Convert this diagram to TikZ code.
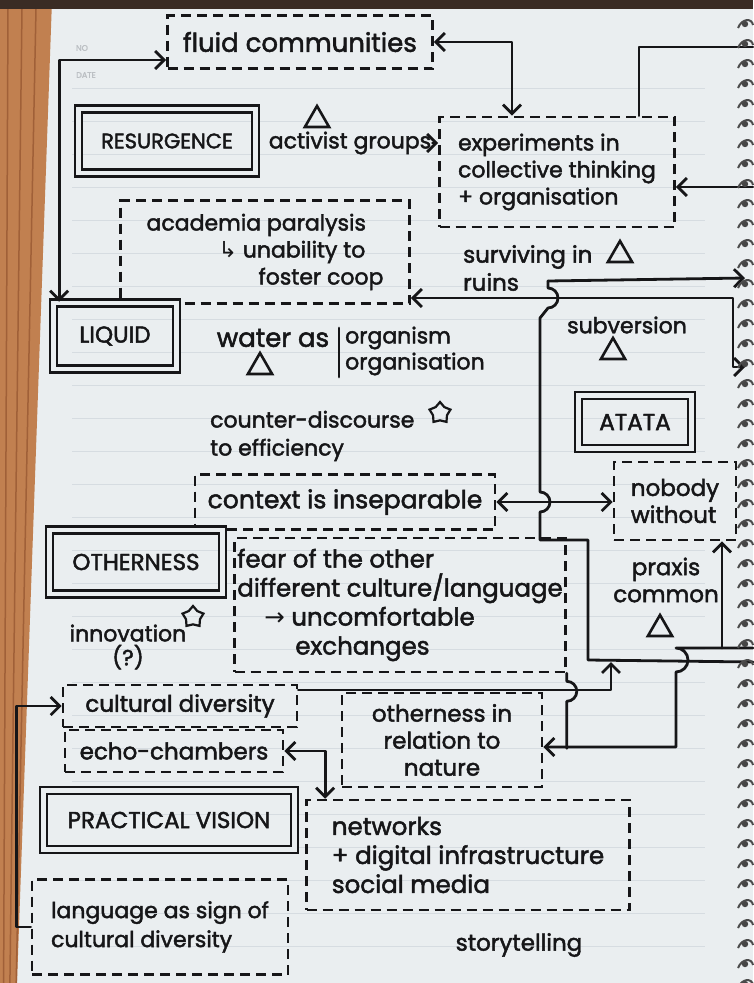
\documentclass[tikz,border=0pt]{standalone}
\usepackage{fontspec}
\setmainfont{Poppins}[FakeBold=2]
\newfontfamily\simbolos{DejaVu Sans}
\usetikzlibrary{shapes.geometric,arrows.meta}
\definecolor{papel}{RGB}{234,238,240}
\definecolor{tinta}{RGB}{22,22,24}
\definecolor{madera}{RGB}{193,128,80}
\definecolor{veta}{RGB}{160,96,56}
\definecolor{borde}{RGB}{58,44,36}
\definecolor{renglon}{RGB}{214,220,225}

\begin{document}
\begin{tikzpicture}[x=1pt,y=-1pt,>={Straight Barb[length=9pt,width=18pt]},
  font=\fontsize{23}{27}\selectfont,every node/.style={text=tinta}]
% estilos de linea y relleno
\tikzstyle{cajadoble}=[draw=tinta,double=papel,double distance=4.5pt,line width=2.6pt,inner sep=0pt,font=\fontsize{23}{26}\selectfont]
\tikzstyle{cajapunteada}=[draw=tinta,line width=2.6pt,dash pattern=on 10pt off 6pt,align=left,inner sep=0pt]
\tikzstyle{conector}=[draw=tinta,line width=2.8pt,line cap=round,line join=round]
\tikzstyle{texto}=[align=left,inner sep=1pt]
\tikzstyle{delta}=[draw=tinta,regular polygon,regular polygon sides=3,minimum size=28pt,inner sep=0pt,line width=2.6pt]
\tikzstyle{estrellita}=[draw=tinta,star,star points=5,minimum size=22pt,inner sep=0pt,line width=2.2pt]
\tikzstyle{anillo}=[line width=2pt,draw=gray!60!black]
% definicion triangulo
% #1: nombre del nodo
% #2: ubicacion
\newcommand{\triangulo}[2]{
\node[delta] (#1) at #2 {};
 }
% definicion estrella
% #1: nombre del nodo
% #2: ubicacion
\newcommand{\estrella}[2]{
\node[estrellita] (#1) at #2 {};
 }
\useasboundingbox (0,0) rectangle (753,983);
% --------------------------------------
% fondo: hoja, mesa y renglones
\fill[papel] (0,0) rectangle (753,983);
\fill[madera] (0,0) -- (52,0) -- (17,983) -- (0,983) -- cycle;
\foreach \x in {8,22,36}
  \draw[veta,line width=1.5pt] (\x,9) -- (\x*0.45,983);
\fill[borde] (0,0) rectangle (753,9);
\foreach \y in {88,121,...,960}
  \draw[renglon,line width=1pt] (72,\y) -- (705,\y);
\node[font=\fontsize{8}{9}\selectfont,text=renglon!70!gray] (no) at (82,48) {NO};
\node[font=\fontsize{8}{9}\selectfont,text=renglon!70!gray] (fecha) at (86,75) {DATE};
% --------------------------------------
% dibujar cajas punteadas
\node[cajapunteada,minimum width=265pt,minimum height=53pt,font=\fontsize{26}{30}\selectfont] (fluid) at (300,42) {fluid communities};
\node[cajapunteada,minimum width=235pt,minimum height=110pt,font=\fontsize{22}{27}\selectfont] (exp) at (557,172) {experiments in\\collective thinking\\+ organisation};
\node[cajapunteada,minimum width=289pt,minimum height=103pt,font=\fontsize{22}{27}\selectfont] (acad) at (265,252) {academia paralysis\\\hspace*{72pt}{\simbolos ↳} unability to\\\hspace*{112pt}foster coop};
\node[cajapunteada,minimum width=300pt,minimum height=55pt,font=\fontsize{25}{29}\selectfont] (ctx) at (345,502) {context is inseparable};
\node[cajapunteada,minimum width=122pt,minimum height=78pt] (nobody) at (675,501) {nobody\\without};
\node[cajapunteada,minimum width=331pt,minimum height=134pt,font=\fontsize{24.5}{29}\selectfont] (fear) at (400,605) {fear of the other\\different culture/language\\\hspace*{27pt}{\simbolos →} uncomfortable\\\hspace*{58pt}exchanges};
\node[cajapunteada,minimum width=234pt,minimum height=42pt] (cult) at (180,706) {cultural diversity};
\node[cajapunteada,minimum width=218pt,minimum height=42pt] (echo) at (174,751) {echo-chambers};
\node[cajapunteada,minimum width=200pt,minimum height=94pt,align=center] (oth) at (442,740) {otherness in\\relation to\\nature};
\node[cajapunteada,minimum width=323pt,minimum height=110pt,font=\fontsize{24.5}{29}\selectfont] (net) at (468,855) {networks\\+ digital infrastructure\\social media};
\node[cajapunteada,minimum width=256pt,minimum height=95pt,font=\fontsize{22}{29}\selectfont] (lang) at (160,927) {language as sign of\\cultural diversity};
% dibujar cajas dobles
\node[cajadoble,minimum width=177pt,minimum height=64pt,font=\fontsize{21}{24}\selectfont] (resurgence) at (167,141) {RESURGENCE};
\node[cajadoble,minimum width=123pt,minimum height=66pt] (liquid) at (115,336) {LIQUID};
\node[cajadoble,minimum width=113pt,minimum height=53pt] (atata) at (635,422) {ATATA};
\node[cajadoble,minimum width=173pt,minimum height=64pt] (otherness) at (136,562) {OTHERNESS};
\node[cajadoble,minimum width=251pt,minimum height=59pt] (practical) at (169,820) {PRACTICAL VISION};
% dibujar textos sueltos
\node[texto,font=\fontsize{22}{27}\selectfont] (activist) at (350,143) {activist groups};
\node[texto,anchor=west] (surv) at (462,257) {surviving in};
\node[texto,anchor=west] (ruins) at (462,282) {ruins};
\node[texto,font=\fontsize{26}{30}\selectfont] (water) at (273,338) {water as};
\node[texto,anchor=west,font=\fontsize{22}{26}\selectfont] (organism) at (344,351) {organism\\organisation};
\node[texto,anchor=west,font=\fontsize{22}{28}\selectfont] (counter) at (209,436) {counter-discourse\\to efficiency};
\node[texto,font=\fontsize{22}{27}\selectfont] (subversion) at (627,325) {subversion};
\node[texto,align=center] (praxis) at (666,580) {praxis\\common};
\node[texto,align=center,font=\fontsize{22}{24}\selectfont] (innovation) at (128,647) {innovation\\(?)};
\node[texto] (story) at (519,945) {storytelling};
\draw[conector] (339,328) -- (339,377);
% dibujar triangulos y estrellas
\triangulo{t1}{(317,120)}
\triangulo{t2}{(620,255)}
\triangulo{t3}{(260,367)}
\triangulo{t4}{(613,352)}
\triangulo{t5}{(660,629)}
\estrella{e1}{(440,413)}
\estrella{e2}{(193,617)}
% --------------------------------------
% dibujar conectores
\coordinate (derA) at (753,47);
\coordinate (derB) at (753,187);
\coordinate (derC) at (745,367);
\coordinate (derD) at (745,278);
\coordinate (derE) at (753,662);
\coordinate (derF) at (753,648);
\coordinate (ruinsR) at (548,281);
\coordinate (union) at (611,662);
\coordinate (praxisJ) at (722,648);
\draw[conector,<->] ([xshift=7pt]liquid.north west) |- ([yshift=-18pt]fluid.west);
\draw[conector,<->] (fluid.east) -| ([xshift=-45pt]exp.north);
\draw[conector] ([xshift=82pt]exp.north) |- (derA);
\draw[conector,->] (derB) -- (derB -| exp.east);
\draw[conector,->] (activist.east) -- (activist.east -| exp.west);
\draw[conector,<->] ([yshift=-46pt]acad.east) -| ([xshift=-12pt]derC) -- (derC);
\draw[conector,->] (ruinsR) -- (derD);
\draw[conector] (ruinsR) -- ++(0,7) arc[start angle=90,end angle=-90,radius=10pt]
  -- (540,318) -- (540,492) arc[start angle=90,end angle=-90,radius=10pt]
  -- (540,540) -- (588,540) -- (588,660) -- (derE);
\draw[conector,->] ([yshift=16pt]cult.east) -| (union);
\draw[conector] (fear.south east) -- ++(0,8) arc[start angle=90,end angle=-90,radius=10pt] -- ++(0,47);
\draw[conector,->] (derF) -- (676,648) arc[start angle=90,end angle=-90,radius=12pt]
  -- (676,747) -- ([yshift=-7pt]oth.east);
\draw[conector,->] (praxisJ) -- (praxisJ |- nobody.south);
\draw[conector,->] (lang.west) -- ++(-14,0) |- (cult.west);
\draw[conector,<->] (echo.east) -| ([xshift=20pt]net.north west);
\draw[conector,<->] (ctx.east) -- (ctx.east -| nobody.west);
% --------------------------------------
% dibujar espiral
\foreach \y in {24,44,...,984} {
  \fill[gray!55!black] (745,\y) circle (3.2pt);
  \draw[anillo] (738,\y+4) .. controls (742,\y-6) and (752,\y-6) .. (753,\y+1);
}
\end{tikzpicture}
\end{document}
